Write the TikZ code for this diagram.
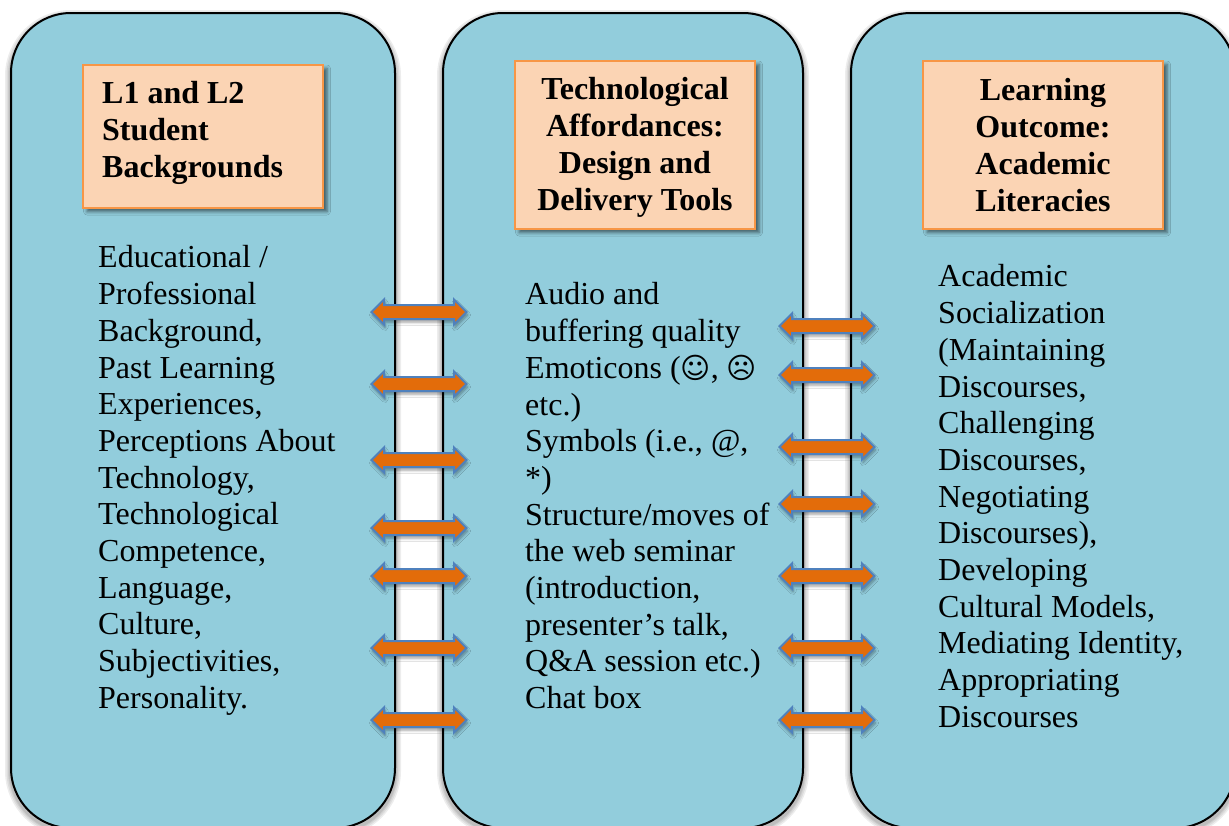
\documentclass[tikz,border=0pt]{standalone}
\usepackage{fontspec}
\setmainfont{Liberation Serif}
\newfontfamily\symfont{DejaVu Sans}
\usetikzlibrary{shapes.arrows,shadows.blur}
\definecolor{panelblue}{HTML}{92CDDC}
\definecolor{headfill}{HTML}{FBD4B4}
\definecolor{headline}{HTML}{F79646}
\definecolor{arrfill}{HTML}{E36C0A}
\definecolor{arrline}{HTML}{4F81BD}
\tikzset{
  panel/.style={draw=black,line width=2pt,fill=panelblue,rounded corners=60pt},
  panelhalo/.style={draw=black,draw opacity=.07,rounded corners=60pt,yshift=-3pt},
  headbox/.style={draw=headline,line width=2pt,fill=headfill,inner sep=0pt,
    blur shadow={shadow xshift=4pt,shadow yshift=-4pt,shadow blur radius=3.5pt,shadow opacity=55}},
  headtext/.style={inner sep=0pt,font=\fontsize{32}{36.8}\selectfont\bfseries},
  bodytext/.style={inner sep=0pt,anchor=north west,align=left,font=\fontsize{32}{36.7}\selectfont},
  dblarrow/.style={double arrow,draw=arrline,line width=2pt,fill=arrfill,
    minimum height=95pt,inner sep=0pt,double arrow head extend=5.5pt,
    double arrow tip angle=90,
    blur shadow={shadow xshift=1pt,shadow yshift=-3pt,shadow blur radius=3pt,shadow opacity=40}}
}
\newcommand{\shaftstrut}{\rule{0pt}{12pt}}
\begin{document}
\begin{tikzpicture}[x=1pt,y=-1pt]
\useasboundingbox (0,0) rectangle (1229,825);
\clip (0,0) rectangle (1229,825);
\fill[white] (0,0) rectangle (1229,825);
% panels
\foreach \w in {12,9,6,4}{
  \path[panelhalo,line width=\w pt] (11,13) rectangle (395,828);
  \path[panelhalo,line width=\w pt] (443,13) rectangle (803,828);
  \path[panelhalo,line width=\w pt] (851,13) rectangle (1235,828);
}
\path[panel] (11,13) rectangle (395,828);
\path[panel] (443,13) rectangle (803,828);
\path[panel] (851,13) rectangle (1235,828);
% heading boxes
\node[headbox] (h1) at (203,136) {\rule{0pt}{143pt}\rule{240pt}{0pt}};
\node[headbox] (h2) at (635,144.5) {\rule{0pt}{168pt}\rule{240pt}{0pt}};
\node[headbox] (h3) at (1043,144.5) {\rule{0pt}{168pt}\rule{240pt}{0pt}};
\node[headtext,anchor=west,align=left] (t1) at (102,133) {L1 and L2\\Student\\Backgrounds};
\node[headtext,align=center] (t2) at (635,147.5) {Technological\\Affordances:\\Design and\\Delivery Tools};
\node[headtext,align=center] (t3) at (1043,145) {Learning\\Outcome:\\Academic\\Literacies};
% body
\node[bodytext] (b1) at (98,245.5) {Educational /\\Professional\\Background,\\Past Learning\\Experiences,\\Perceptions About\\Technology,\\Technological\\Competence,\\Language,\\Culture,\\Subjectivities,\\Personality.};
\node[bodytext] (b2) at (525,282.5) {Audio and\\buffering quality\\Emoticons ({\symfont\fontsize{29}{36.7}\selectfont ☺}, {\symfont\fontsize{29}{36.7}\selectfont ☹}\\etc.)\\Symbols (i.e., \textit{@},\\*)\\Structure/moves of\\the web seminar\\(introduction,\\presenter’s talk,\\Q\&A session etc.)\\Chat box};
\node[bodytext] (b3) at (938,264.5) {Academic\\Socialization\\(Maintaining\\Discourses,\\Challenging\\Discourses,\\Negotiating\\Discourses),\\Developing\\Cultural Models,\\Mediating Identity,\\Appropriating\\Discourses};
% arrows
\foreach \n/\y in {a1/312,a2/384,a3/460,a4/528,a5/576,a6/648,a7/720}
  \node[dblarrow] (\n) at (419,\y) {\shaftstrut};
\foreach \n/\y in {c1/326,c2/375,c3/447,c4/504,c5/576,c6/648,c7/720}
  \node[dblarrow] (\n) at (827,\y) {\shaftstrut};
\end{tikzpicture}
\end{document}
